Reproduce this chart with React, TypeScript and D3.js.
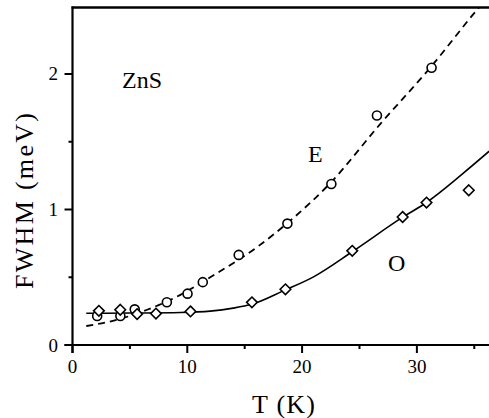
import React from "react";
import * as d3 from "d3";

// Measured data points (E: circles, O: diamonds)
const eT = [2.15, 4.17, 5.42, 8.22, 10.02, 11.35, 14.48, 18.72, 22.55, 26.52, 31.28];
const eFWHM = [0.214, 0.214, 0.263, 0.315, 0.379, 0.464, 0.665, 0.896, 1.188, 1.694, 2.046];
const oT = [2.3, 4.16, 5.63, 7.27, 10.28, 15.63, 18.55, 24.37, 28.76, 30.84, 34.52];
const oFWHM = [0.252, 0.26, 0.228, 0.232, 0.248, 0.315, 0.411, 0.695, 0.945, 1.051, 1.142];

// Fit curves
const eFitT = [1.2, 3.6, 6.5, 9.4, 12.0, 16.2, 19.0, 22.4, 26.8, 31.2, 35.2, 35.5];
const eFitY = [0.14, 0.18, 0.26, 0.37, 0.5, 0.73, 0.92, 1.19, 1.63, 2.05, 2.47, 2.5];
const oFitT = [1.2, 5, 9.4, 12.0, 14.0, 15.6, 18.5, 21.0, 24.4, 28.8, 30.8, 34.0, 36.3];
const oFitY = [0.234, 0.236, 0.24, 0.25, 0.272, 0.3, 0.405, 0.503, 0.69, 0.945, 1.05, 1.265, 1.43];

const xMajor = [0, 10, 20, 30];
const xMinor = [5, 15, 25, 35];
const yMajor = [0, 1, 2];
const yMinor = [0.5, 1.5];

const W = 489;
const H = 418;
const font = '"Liberation Serif", "DejaVu Serif", "Times New Roman", serif';
const ts: React.CSSProperties = { fontFamily: font };

export default function App() {
  const x = d3.scaleLinear().domain([0, 36.3]).range([72.5, 489.2]);
  const y = d3.scaleLinear().domain([0, 2.49]).range([345, 7.6]);

  const line = d3
    .line<[number, number]>()
    .x((d) => x(d[0]))
    .y((d) => y(d[1]))
    .curve(d3.curveMonotoneX);

  const ePath = line(eFitT.map((t, i) => [t, eFitY[i]] as [number, number])) || "";
  const oPath = line(oFitT.map((t, i) => [t, oFitY[i]] as [number, number])) || "";

  const left = x(0);
  const bottom = y(0);
  const top = 7.5;

  const diamond = (cx: number, cy: number, r: number) =>
    `M${cx},${cy - r}L${cx + r},${cy}L${cx},${cy + r}L${cx - r},${cy}Z`;

  return (
    <svg
      width={W}
      height={H}
      style={{ position: "absolute", left: 0, top: 0, background: "#fff", fontFamily: font }}
    >
      <defs>
        <clipPath id="plot">
          <rect x={left} y={top} width={W - left} height={bottom - top} />
        </clipPath>
      </defs>
      <rect width={W} height={H} fill="#fff" />

      {/* curves */}
      <g clipPath="url(#plot)">
        <path d={ePath} fill="none" stroke="#000" strokeWidth={1.8} strokeDasharray="7,5" />
        <path d={oPath} fill="none" stroke="#000" strokeWidth={1.6} />
      </g>

      {/* markers */}
      {eT.map((t, i) => (
        <circle key={"e" + i} cx={x(t)} cy={y(eFWHM[i])} r={4.5} fill="#fff" stroke="#000" strokeWidth={1.6} />
      ))}
      {oT.map((t, i) => (
        <path key={"o" + i} d={diamond(x(t), y(oFWHM[i]), 5.3)} fill="#fff" stroke="#000" strokeWidth={1.6} />
      ))}

      {/* axes frame */}
      <line x1={left} x2={left} y1={top - 1} y2={bottom + 8} stroke="#000" strokeWidth={2.2} />
      <line x1={left - 8} x2={W} y1={bottom} y2={bottom} stroke="#000" strokeWidth={2.2} />
      <line x1={left - 1} x2={W} y1={top} y2={top} stroke="#000" strokeWidth={2.6} />

      {/* x ticks */}
      {xMajor.map((t) => (
        <g key={"xm" + t}>
          <line x1={x(t)} x2={x(t)} y1={bottom} y2={bottom + 8} stroke="#000" strokeWidth={2} />
          <text x={x(t)} y={373} fontSize={19} textAnchor="middle" style={ts}>
            {t}
          </text>
        </g>
      ))}
      {xMinor.map((t) => (
        <line key={"xn" + t} x1={x(t)} x2={x(t)} y1={bottom} y2={bottom + 4} stroke="#000" strokeWidth={2} />
      ))}

      {/* y ticks */}
      {yMajor.map((v) => (
        <g key={"ym" + v}>
          <line x1={left - 8} x2={left} y1={y(v)} y2={y(v)} stroke="#000" strokeWidth={2} />
          <text x={58} y={y(v) + 6.5} fontSize={19} textAnchor="end" style={ts}>
            {v}
          </text>
        </g>
      ))}
      {yMinor.map((v) => (
        <line key={"yn" + v} x1={left - 4} x2={left} y1={y(v)} y2={y(v)} stroke="#000" strokeWidth={2} />
      ))}

      {/* annotations */}
      <text x={122} y={88} fontSize={24} style={ts}>ZnS</text>
      <text x={308} y={162} fontSize={24} style={ts}>E</text>
      <text x={388} y={271} fontSize={24} style={ts}>O</text>

      {/* axis labels */}
      <text x={252} y={413} fontSize={26} textLength={63} lengthAdjust="spacing" style={ts}>
        T (K)
      </text>
      <text
        transform="translate(33,201) rotate(-90)"
        fontSize={26}
        textAnchor="middle"
        textLength={176}
        lengthAdjust="spacing"
        style={ts}
      >
        FWHM (meV)
      </text>
    </svg>
  );
}
